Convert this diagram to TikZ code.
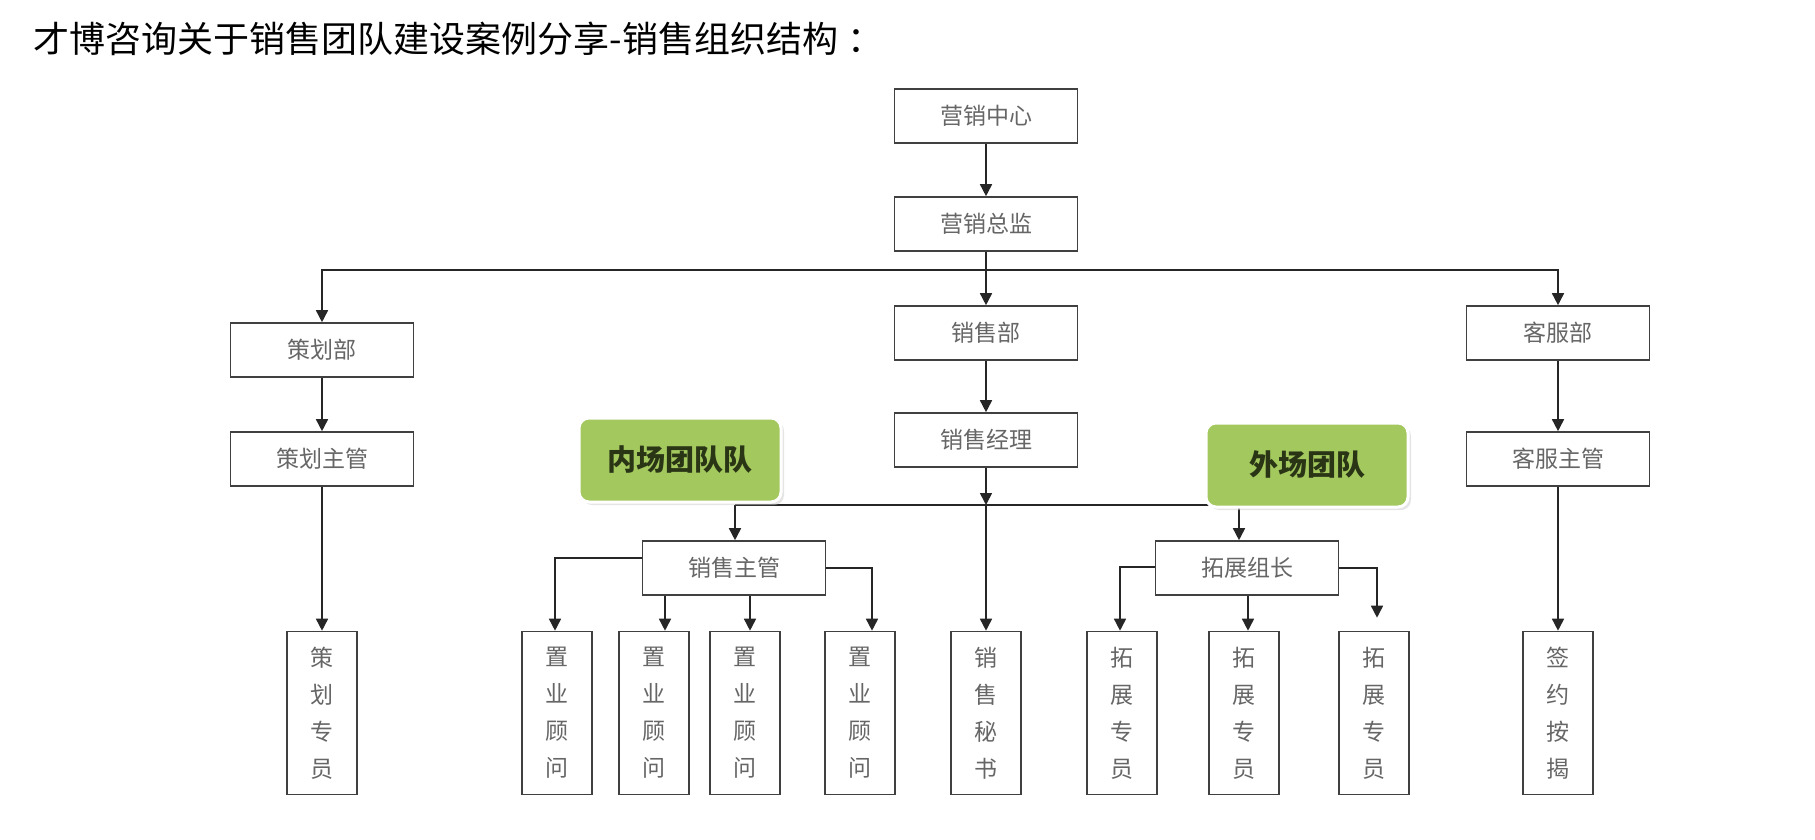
\documentclass[tikz,border=0pt]{standalone}
\usepackage{fontspec}
\newfontfamily\cjk{Noto Sans CJK SC}
\usetikzlibrary{arrows.meta,shadows}
\pgfdeclarelayer{bg}
\pgfsetlayers{bg,main}
\definecolor{teamgreen}{HTML}{A3C85E}
\definecolor{teamtext}{HTML}{2A3516}
\begin{document}
\begin{tikzpicture}[x=1pt,y=-1pt,
  box/.style={draw=black!75,line width=1.6pt,fill=white,minimum width=183pt,minimum height=54pt,
    inner sep=0pt,font=\cjk\fontsize{23}{23}\selectfont,text=black!60},
  vbox/.style={draw=black!75,line width=1.6pt,fill=white,minimum width=70pt,minimum height=163pt,
    inner sep=0pt,align=center,font=\cjk\fontsize{23}{37}\selectfont,text=black!60},
  team/.style={rounded corners=10pt,fill=teamgreen,draw=white,line width=3pt,minimum width=202pt,
    minimum height=84pt,inner sep=0pt,font=\cjk\bfseries\fontsize{29}{29}\selectfont,text=teamtext,
    drop shadow={shadow xshift=3pt,shadow yshift=-3pt,fill=black!20}},
  arr/.style={-{Triangle[length=12pt,width=12pt]},line width=1.6pt,draw=black!85},
  ln/.style={line width=1.6pt,draw=black!85}]
\useasboundingbox (0,0) rectangle (1815,840);
\node[anchor=west,font=\cjk\fontsize{36}{36}\selectfont] (title) at (30,39) {才博咨询关于销售团队建设案例分享-销售组织结构\kern10pt：};

\node[box] (yx) at (986,116) {营销中心};
\node[box] (zj) at (986,224) {营销总监};
\node[box] (ch) at (322,350) {策划部};
\node[box] (xs) at (986,333) {销售部};
\node[box] (kf) at (1558,333) {客服部};
\node[box] (chzg) at (322,459) {策划主管};
\node[box] (xsjl) at (986,440) {销售经理};
\node[box] (kfzg) at (1558,459) {客服主管};
\node[team] (nc) at (680,460) {内场团队队};
\node[team] (wc) at (1307,465) {外场团队};
\node[box] (xszg) at (734,568) {销售主管};
\node[box] (tzzz) at (1247,568) {拓展组长};

\node[vbox] (b1) at (322,713) {策\\划\\专\\员};
\node[vbox] (s1) at (557,713) {置\\业\\顾\\问};
\node[vbox] (s2) at (654,713) {置\\业\\顾\\问};
\node[vbox] (s3) at (745,713) {置\\业\\顾\\问};
\node[vbox] (s4) at (860,713) {置\\业\\顾\\问};
\node[vbox] (ms) at (986,713) {销\\售\\秘\\书};
\node[vbox] (t1) at (1122,713) {拓\\展\\专\\员};
\node[vbox] (t2) at (1244,713) {拓\\展\\专\\员};
\node[vbox] (t3) at (1374,713) {拓\\展\\专\\员};
\node[vbox] (qy) at (1558,713) {签\\约\\按\\揭};

\coordinate (j1) at (986,270);
\coordinate (j2) at (986,505);
\coordinate (nL) at (735,505);
\coordinate (nR) at (1239,505);

\begin{pgfonlayer}{bg}
\draw[arr] (yx) -- (zj);
\draw[arr] (zj) -- (xs);
\draw[arr] (j1) -| (ch);
\draw[arr] (j1) -| (kf);
\draw[arr] (ch) -- (chzg);
\draw[arr] (chzg) -- (b1);
\draw[arr] (xs) -- (xsjl);
\draw[arr] (xsjl) -- (j2);
\draw[arr] (j2) -- (ms);
\draw[arr] (kf) -- (kfzg);
\draw[arr] (kfzg) -- (qy);
\draw[ln] (nL) -- (nR);
\draw[arr] (nL) -- (nL |- xszg.north);
\draw[arr] (nR) -- (nR |- tzzz.north);
\draw[arr] ([yshift=10pt]xszg.west) -| ([xshift=-2pt]s1.north);
\draw[arr] ([xshift=11pt]s2.north |- xszg.south) -- ([xshift=11pt]s2.north);
\draw[arr] ([xshift=5pt]s3.north |- xszg.south) -- ([xshift=5pt]s3.north);
\draw[arr] (xszg.east) -| ([xshift=12pt]s4.north);
\draw[arr] ([yshift=1pt]tzzz.west) -| ([xshift=-2pt]t1.north);
\draw[arr] ([xshift=4pt]t2.north |- tzzz.south) -- ([xshift=4pt]t2.north);
\draw[arr] (tzzz.east) -| ([xshift=3pt,yshift=13pt]t3.north);
\end{pgfonlayer}
\end{tikzpicture}
\end{document}
